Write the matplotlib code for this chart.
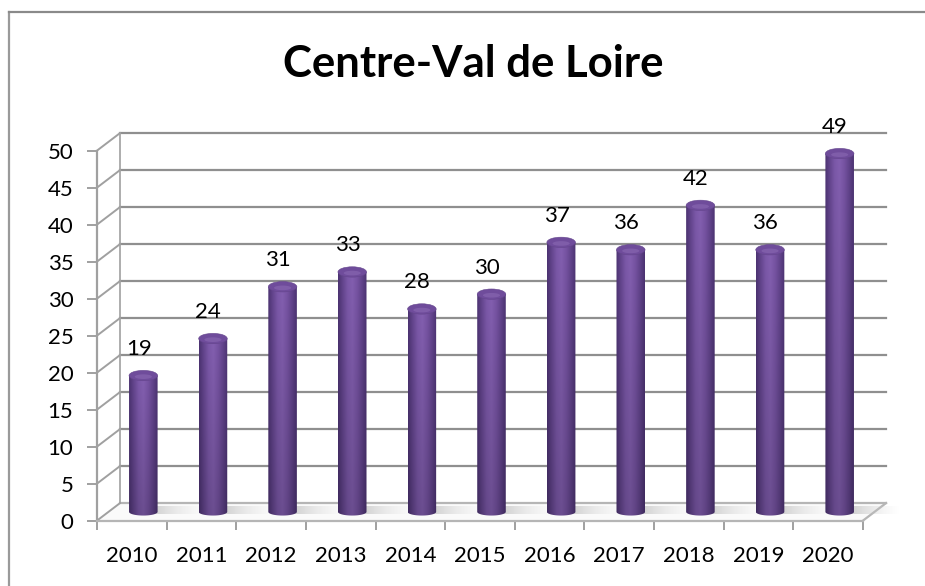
import numpy as np
import matplotlib
matplotlib.use('Agg')
import matplotlib.pyplot as plt
from matplotlib.lines import Line2D
from matplotlib.patches import Ellipse, Polygon
from matplotlib.colors import LinearSegmentedColormap

years = ['2010', '2011', '2012', '2013', '2014', '2015', '2016', '2017', '2018', '2019', '2020']
values = [19, 24, 31, 33, 28, 30, 37, 36, 42, 36, 49]
y_ticks = [0, 5, 10, 15, 20, 25, 30, 35, 40, 45, 50]

plt.rcParams['font.family'] = ['Lato', 'DejaVu Sans']

W, H = 925, 586
fig = plt.figure(figsize=(W / 100, H / 100), dpi=100, facecolor='white')

# front plane of the fake 3D box, in pixels of the picture
left, right = 97, 863
top, bottom = 150.6, 520.6
ax = fig.add_axes([left / W, 1 - bottom / H, (right - left) / W, (bottom - top) / H])
ax.set_xlim(0, len(years))
ax.set_ylim(0, 50)
ax.patch.set_visible(False)

# depth of the box in data units
dx = 23 / ((right - left) / len(years))
dy = 17.5 / ((bottom - top) / 50)

grid_col = '#8f8f8f'
n = len(years)

# the frame only shows on the top and left side
fig.add_artist(Line2D([9 / W, 9 / W], [0, 1 - 12 / H], transform=fig.transFigure, color='#9a9a9a', lw=1.6))
fig.add_artist(Line2D([9 / W, 1], [1 - 12 / H, 1 - 12 / H], transform=fig.transFigure, color='#8a8a8a', lw=1.6))

# floor
ax.add_patch(Polygon([(0, 0), (dx, dy), (n + dx, dy), (n, 0)], closed=True, fc='#fafafa',
                     ec='none', clip_on=False, zorder=1))

# back wall lines and side wall diagonals
for t in y_ticks:
    ax.plot([dx, n + dx], [t + dy, t + dy], color=grid_col if t else '#b5b5b5', lw=1.6,
            clip_on=False, zorder=1.5)
    ax.plot([0, dx], [t, t + dy], color='#a0a0a0', lw=1.4, clip_on=False, zorder=1.5)
ax.plot([n, n + dx], [0, dy], color='#b5b5b5', lw=1.6, clip_on=False, zorder=1.5)
ax.plot([dx, dx], [dy, 50 + dy], color='#a0a0a0', lw=1.2, clip_on=False, zorder=1.5)

# cylinder shading: dark edges, lighter middle, darker towards the base
bar_cmap = LinearSegmentedColormap.from_list('cyl', ['#4c3372', '#65468f', '#7b58a8', '#835fb0',
                                                     '#7653a2', '#62448c', '#4c3372'])
shade = bar_cmap(np.linspace(0, 1, 64))[:, :3]
fade = np.linspace(0.82, 1.0, 128)[:, None, None]
cyl_img = shade[None, :, :] * fade

shadow_cmap = LinearSegmentedColormap.from_list('shadow', [(0.66, 0.66, 0.66, 0.7), (0.85, 0.85, 0.85, 0.0)])
shadow_img = shadow_cmap(np.linspace(0, 1, 64))[None, :, :]

bar_w = 0.41
ell_h = 1.4
base = dy / 2
for i, v in enumerate(values):
    cx = i + 0.5 + dx / 2
    # shadow on the floor
    ax.imshow(shadow_img, extent=(cx, cx + 0.85, base - 0.3, base + 0.75), aspect='auto',
              zorder=2, clip_on=False)
    # body
    top_y = v + 0.6
    im = ax.imshow(cyl_img, extent=(cx - bar_w / 2, cx + bar_w / 2, base - 0.6, top_y),
                   origin='lower', aspect='auto', zorder=3, clip_on=True)
    clip = Polygon([(cx - bar_w / 2, top_y), (cx + bar_w / 2, top_y), (cx + bar_w / 2, base)]
                   + [(cx + bar_w / 2 * np.cos(a), base + 0.5 * np.sin(a))
                      for a in np.linspace(0, -np.pi, 30)], closed=True,
                   transform=ax.transData, fc='none', ec='none')
    ax.add_patch(clip)
    clip.set_clip_on(False)
    im.set_clip_path(clip)
    # cap
    ax.add_patch(Ellipse((cx, top_y), bar_w, ell_h, fc='#6f4c9b', ec='#64458c', lw=0.4,
                         zorder=4, clip_on=False))
    ax.add_patch(Ellipse((cx, top_y - 0.15), bar_w * 0.6, ell_h * 0.45, fc='#8a69b3', ec='none',
                         alpha=0.6, zorder=4.1, clip_on=False))
    ax.text(i + 0.5 + dx * 0.3, v + 4.2, str(v), ha='center', va='center', fontsize=16,
            color='black', zorder=5)

ax.set_xlim(0, n)
ax.set_ylim(0, 50)

# axes, ticks and labels
for s in ['top', 'right']:
    ax.spines[s].set_visible(False)
ax.spines['left'].set_color('#a0a0a0')
ax.spines['left'].set_linewidth(1.6)
ax.spines['bottom'].set_color('#b5b5b5')
ax.spines['bottom'].set_linewidth(1.6)
ax.set_yticks(y_ticks)
ax.set_yticklabels([str(t) for t in y_ticks], fontsize=16)
ax.set_xticks(range(n + 1))
ax.set_xticklabels([])
ax.set_xticks(np.arange(n) + 0.5, labels=years, minor=True, fontsize=16)
ax.tick_params(axis='x', which='major', length=6.5, width=1.4, color='#a0a0a0')
ax.tick_params(axis='x', which='minor', length=0, pad=18)
ax.tick_params(axis='y', length=7, width=1.4, color='#a0a0a0', pad=10)

fig.text(473 / W, 1 - 64 / H, 'Centre-Val de Loire', ha='center', va='center', fontsize=31.5,
         fontweight='bold', color='black')

fig.savefig('out.png', dpi=100)
